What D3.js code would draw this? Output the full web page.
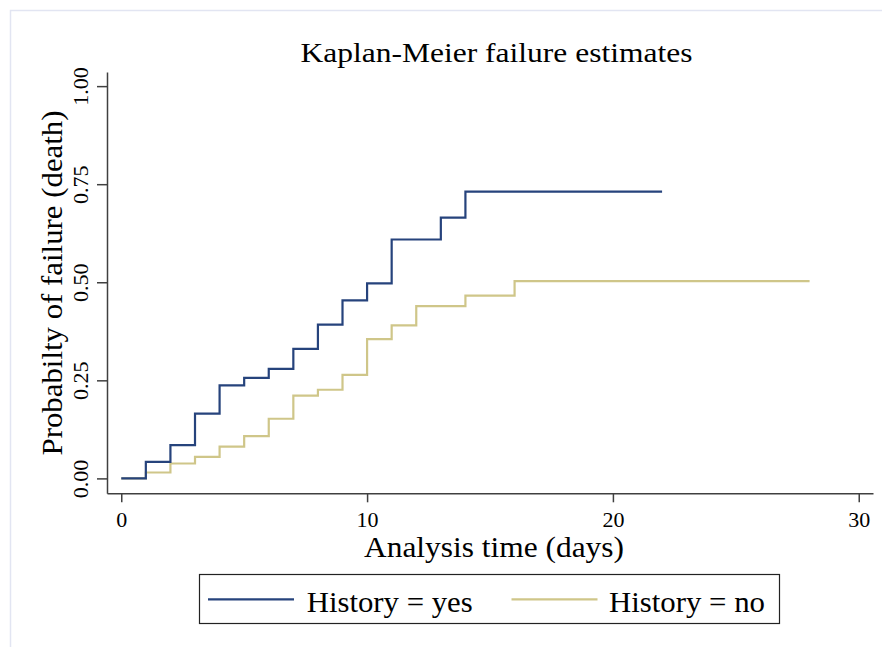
<!DOCTYPE html>
<html>
<head>
<meta charset="utf-8">
<script src="https://cdn.jsdelivr.net/npm/d3@7"></script>
<style>
  body { margin: 0; background: #fff; }
  svg { display: block; font-family: "Liberation Serif", "Times New Roman", serif; }
</style>
</head>
<body>
<svg id="canvas" width="882" height="647"></svg>
<script>
// Kaplan-Meier failure estimates
var yesTimes  = [0, 1, 2, 3, 4, 5, 6, 7, 8, 9, 10, 11, 13, 14, 22];
var yesValues = [0, 0.042, 0.085, 0.165, 0.237, 0.256, 0.279, 0.330, 0.392, 0.454, 0.497, 0.609, 0.665, 0.731, 0.731];
var noTimes   = [0, 1, 2, 3, 4, 5, 6, 7, 8, 9, 10, 11, 12, 14, 16, 28];
var noValues  = [0, 0.015, 0.038, 0.055, 0.081, 0.108, 0.152, 0.211, 0.226, 0.264, 0.355, 0.390, 0.439, 0.466, 0.503, 0.503];
var xTicks = [0, 10, 20, 30];
var yTicks = [0, 0.25, 0.5, 0.75, 1];
var seriesNames = ["History = yes", "History = no"];
var seriesColors = ["#26437c", "#cfc689"];

var svg = d3.select("#canvas");

// light frame of the graph region
svg.append("rect")
  .attr("x", 10.5).attr("y", 10.5)
  .attr("width", 900).attr("height", 700)
  .attr("fill", "none")
  .attr("stroke", "#e2e5f2")
  .attr("stroke-width", 1.5);

var xScale = d3.scaleLinear().domain([-0.58, 30.58]).range([107, 873]);
var yScale = d3.scaleLinear().domain([-0.038, 1.036]).range([493.3, 72]);

var xAxis = d3.axisBottom(xScale).tickValues(xTicks).tickSize(9).tickSizeOuter(0);
var yAxis = d3.axisLeft(yScale).tickValues(yTicks).tickSize(10).tickSizeOuter(0)
  .tickFormat(d3.format(".2f"));

var gx = svg.append("g")
  .attr("class", "x axis")
  .attr("transform", "translate(0,493.3)")
  .call(xAxis);
gx.selectAll("text").attr("font-size", 22).attr("fill", "#000")
  .attr("font-family", "Liberation Serif, serif").attr("dy", "0.71em").attr("y", 18.5);

var gy = svg.append("g")
  .attr("class", "y axis")
  .attr("transform", "translate(107,0)")
  .call(yAxis);
gy.selectAll("text")
  .attr("font-size", 22).attr("fill", "#000")
  .attr("font-family", "Liberation Serif, serif")
  .attr("text-anchor", "middle")
  .attr("transform", "rotate(-90)")
  .attr("x", 0).attr("dy", 0)
  .attr("y", -19);

svg.selectAll(".axis path, .axis line")
  .attr("stroke", "#404040")
  .attr("stroke-width", 1.5);

// curves
var line = d3.line()
  .x(function (d) { return xScale(d.t); })
  .y(function (d) { return yScale(d.v); })
  .curve(d3.curveStepAfter);

var series = [
  yesTimes.map(function (t, i) { return {t: t, v: yesValues[i]}; }),
  noTimes.map(function (t, i) { return {t: t, v: noValues[i]}; })
];

svg.selectAll("path.km").data([series[1], series[0]]).enter()
  .append("path")
  .attr("class", "km")
  .attr("d", line)
  .attr("fill", "none")
  .attr("stroke", function (d, i) { return seriesColors[1 - i]; })
  .attr("stroke-width", 2.2);

// titles (glyphs stretched a little to the widths seen in the picture)
svg.append("text")
  .attr("x", 496.5).attr("y", 61.7)
  .attr("text-anchor", "middle")
  .attr("font-size", 28)
  .attr("textLength", 392).attr("lengthAdjust", "spacingAndGlyphs")
  .text("Kaplan-Meier failure estimates");

svg.append("text")
  .attr("x", 494).attr("y", 556.5)
  .attr("text-anchor", "middle")
  .attr("font-size", 29)
  .attr("textLength", 260).attr("lengthAdjust", "spacingAndGlyphs")
  .text("Analysis time (days)");

svg.append("text")
  .attr("transform", "translate(62,283) rotate(-90)")
  .attr("text-anchor", "middle")
  .attr("font-size", 29)
  .attr("textLength", 345).attr("lengthAdjust", "spacingAndGlyphs")
  .text("Probabilty of failure (death)");

// legend
svg.append("rect")
  .attr("x", 199.5).attr("y", 574.5)
  .attr("width", 580).attr("height", 49)
  .attr("fill", "#fff")
  .attr("stroke", "#222")
  .attr("stroke-width", 1.2);

var legendX = [208, 511.5];
var legendTextLen = [166, 156];
var legend = svg.selectAll("g.legend").data(seriesNames).enter()
  .append("g")
  .attr("class", "legend")
  .attr("transform", function (d, i) { return "translate(" + legendX[i] + ",0)"; });

legend.append("line")
  .attr("x1", 0).attr("x2", 86)
  .attr("y1", 599.3).attr("y2", 599.3)
  .attr("stroke", function (d, i) { return seriesColors[i]; })
  .attr("stroke-width", 2.2);

legend.append("text")
  .attr("x", function (d, i) { return i == 0 ? 98.7 : 97.5; })
  .attr("y", 611.5)
  .attr("font-size", 29)
  .attr("textLength", function (d, i) { return legendTextLen[i]; })
  .attr("lengthAdjust", "spacingAndGlyphs")
  .text(function (d) { return d; });
</script>
</body>
</html>
